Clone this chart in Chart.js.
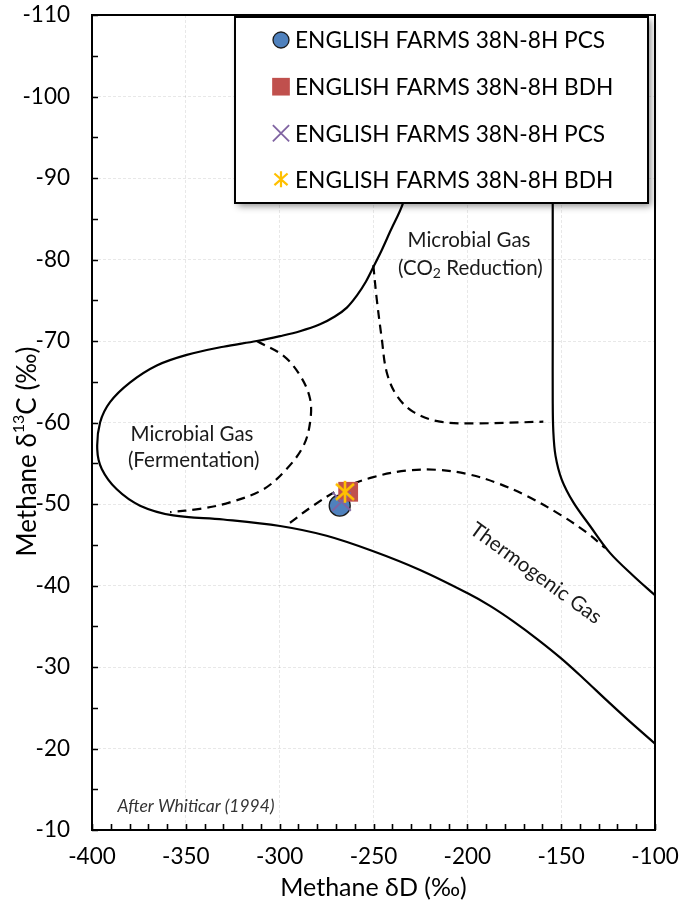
<!DOCTYPE html>
<html>
<head>
<meta charset="utf-8">
<script src="https://cdn.jsdelivr.net/npm/chart.js@4.4.1/dist/chart.umd.min.js"></script>
<style>
  html, body { margin: 0; padding: 0; background: #ffffff; }
  #wrap { width: 682px; height: 907px; }
</style>
</head>
<body>
<div id="wrap"><canvas id="c" width="682" height="907"></canvas></div>
<script>
// ---------- DATA ----------
const xTicks = [-400, -350, -300, -250, -200, -150, -100];
const yTicks = [-110, -100, -90, -80, -70, -60, -50, -40, -30, -20, -10];

// Field boundaries (δD, δ13C) after Whiticar (1994)
const outerBoundary = [
  [-208, -110], [-222, -96], [-234.3, -86.9], [-241.2, -83.4], [-245.5, -81.2],
  [-249.7, -79.25], [-254.0, -77.3], [-258.8, -75.6], [-264.2, -74.1], [-270.6, -73.0],
  [-278.5, -72.05], [-289.2, -71.2], [-299.8, -70.6], [-312.2, -70.0], [-330, -69.3],
  [-349.5, -68.3], [-365.5, -67.0], [-379.8, -64.9], [-390.4, -62.5], [-395.7, -60.0],
  [-397.2, -56.7], [-394.8, -54.3], [-386.8, -51.8], [-374.4, -49.8], [-356.7, -48.6],
  [-330, -48.1], [-299.8, -47.3], [-275, -46.1], [-250.1, -44.2], [-225.2, -41.9],
  [-200.3, -39.1], [-187.9, -37.5], [-175.5, -35.6], [-162.6, -33.4], [-149.7, -31.0],
  [-137.7, -28.5], [-125.7, -25.9], [-112.9, -23.2], [-100, -20.6]
];
const thermogenicBoundary = [
  [-154.5, -110], [-154.5, -87], [-154.5, -70], [-154.5, -63], [-154.2, -59.0],
  [-153.0, -55.9], [-149.7, -53.0], [-143.5, -50.2], [-134.6, -47.3], [-124, -44.0],
  [-111.6, -41.2], [-100, -38.8]
];
const fermentationDashed = [
  [-312.2, -70.0], [-298.1, -68.2], [-289.2, -65.8], [-283.8, -62.9], [-283.8, -60.0],
  [-287.4, -57.1], [-296.3, -54.3], [-308.7, -51.8], [-326.5, -50.2], [-342.5, -49.4],
  [-358.4, -49.0]
];
const co2ReductionDashed = [
  [-250.1, -79.3], [-248.3, -75.2], [-245.6, -70.3], [-243, -66.2], [-237.6, -63.3],
  [-228.8, -61.3], [-214.6, -60.1], [-195, -59.9], [-159.5, -60.1]
];
const thermogenicDashed = [
  [-294.5, -47.7], [-282.1, -49.8], [-267.9, -51.8], [-250.1, -53.3], [-232.3, -54.1],
  [-216.4, -54.2], [-200.3, -53.7], [-184.4, -52.6], [-168.4, -51.0], [-150.6, -48.7],
  [-136.4, -46.5], [-126.6, -44.6]
];

// Samples
const seriesLabels = [
  'ENGLISH FARMS 38N-8H PCS',
  'ENGLISH FARMS 38N-8H BDH',
  'ENGLISH FARMS 38N-8H PCS',
  'ENGLISH FARMS 38N-8H BDH'
];
const pcsCircle = [[-268, -49.8]];
const bdhSquare = [[-263.5, -51.5]];
const pcsCross = [[-267, -50.3]];
const bdhStar = [[-265.2, -51.5]];

// ---------- STYLE / DRAWING ----------
const FONT = 'Lato, "Open Sans", "Noto Sans", sans-serif';
const toXY = arr => arr.map(p => ({ x: p[0], y: p[1] }));

function drawAsterisk(g, r, color, lw) {
  g.save();
  g.strokeStyle = color; g.lineWidth = lw; g.lineCap = 'butt';
  g.beginPath();
  g.moveTo(0, -r); g.lineTo(0, r);
  g.moveTo(-0.82 * r, -0.72 * r); g.lineTo(0.82 * r, 0.72 * r);
  g.moveTo(-0.82 * r, 0.72 * r); g.lineTo(0.82 * r, -0.72 * r);
  g.stroke();
  g.restore();
}
function asteriskCanvas(r, color, lw) {
  const c = document.createElement('canvas');
  const s = Math.ceil(2 * r + 2 * lw + 2);
  c.width = s; c.height = s;
  const g = c.getContext('2d');
  g.translate(s / 2, s / 2);
  drawAsterisk(g, r, color, lw);
  return c;
}

function drawSymbol(ctx, kind, x, y, r, fill, stroke, lw) {
  ctx.save();
  ctx.translate(x, y);
  ctx.beginPath();
  if (kind === 'circle') {
    ctx.arc(0, 0, r, 0, Math.PI * 2);
    ctx.fillStyle = fill; ctx.fill();
    ctx.lineWidth = lw; ctx.strokeStyle = stroke; ctx.stroke();
  } else if (kind === 'rect') {
    const s = r * Math.SQRT1_2;
    ctx.fillStyle = fill; ctx.fillRect(-s, -s, 2 * s, 2 * s);
  } else if (kind === 'crossRot') {
    const s = r * Math.SQRT1_2;
    ctx.moveTo(-s, -s); ctx.lineTo(s, s); ctx.moveTo(-s, s); ctx.lineTo(s, -s);
    ctx.lineWidth = lw; ctx.strokeStyle = stroke; ctx.stroke();
  } else if (kind === 'asterisk') {
    drawAsterisk(ctx, r, stroke, lw);
  }
  ctx.restore();
}

function curve(label, arr, dashed) {
  return {
    type: 'line', label, data: toXY(arr), showLine: true,
    borderColor: '#000', borderWidth: 2.2, borderDash: dashed ? [9, 6] : [],
    pointRadius: 0, pointHoverRadius: 0, tension: 0.35, fill: false, order: 10,
    isCurve: true
  };
}

const symbolDefs = [
  { kind: 'circle', fill: '#4F81BD', stroke: '#1b1b1b', lw: 1.3, r: 8 },
  { kind: 'rect', fill: '#C0504D', stroke: '#C0504D', lw: 0, r: 12.5 },
  { kind: 'crossRot', fill: 'transparent', stroke: '#8064A2', lw: 1.8, r: 11.5 },
  { kind: 'asterisk', fill: 'transparent', stroke: '#FFC000', lw: 2.2, r: 8 }
];

const datasets = [
  {
    type: 'scatter', label: seriesLabels[0], data: toXY(pcsCircle), pointStyle: 'circle',
    pointRadius: 10.5, backgroundColor: '#4F81BD', borderColor: '#1b1b1b', borderWidth: 1.3, order: 3
  },
  {
    type: 'scatter', label: seriesLabels[1], data: toXY(bdhSquare), pointStyle: 'rect',
    pointRadius: 14, backgroundColor: '#C0504D', borderColor: '#C0504D', borderWidth: 0, order: 2
  },
  {
    type: 'scatter', label: seriesLabels[2], data: toXY(pcsCross), pointStyle: 'crossRot',
    pointRadius: 13, backgroundColor: '#8064A2', borderColor: '#8064A2', borderWidth: 2, order: 1
  },
  {
    type: 'scatter', label: seriesLabels[3], data: toXY(bdhStar), pointStyle: asteriskCanvas(11, '#FFC000', 2.6),
    pointRadius: 11, backgroundColor: '#FFC000', borderColor: '#FFC000', borderWidth: 0, order: 0
  },
  curve('Outer boundary', outerBoundary, false),
  curve('Thermogenic boundary', thermogenicBoundary, false),
  curve('Fermentation', fermentationDashed, true),
  curve('CO2 reduction', co2ReductionDashed, true),
  curve('Thermogenic', thermogenicDashed, true)
];

const decorPlugin = {
  id: 'decor',
  afterDraw(chart) {
    const { ctx, chartArea: ca, scales: { x, y } } = chart;
    ctx.save();
    // frame
    ctx.strokeStyle = '#000'; ctx.lineWidth = 2;
    ctx.strokeRect(ca.left, ca.top, ca.right - ca.left, ca.bottom - ca.top);
    // inward tick marks
    ctx.lineWidth = 1.6;
    ctx.beginPath();
    for (let v = x.min; v <= x.max + 0.001; v += 10) {
      const px = Math.round(x.getPixelForValue(v)) + 0.5;
      ctx.moveTo(px, ca.bottom); ctx.lineTo(px, ca.bottom - 6);
    }
    for (let v = y.min; v <= y.max + 0.001; v += 5) {
      const py = Math.round(y.getPixelForValue(v)) + 0.5;
      ctx.moveTo(ca.left, py); ctx.lineTo(ca.left + 6, py);
    }
    ctx.stroke();

    // y-axis title with real superscript
    {
      const big = '26px ' + FONT, small = '16px ' + FONT;
      const parts = [['Methane δ', big, 0], ['13', small, -9], ['C (‰)', big, 0]];
      ctx.save();
      ctx.fillStyle = '#000'; ctx.textBaseline = 'middle'; ctx.textAlign = 'left';
      let total = 0;
      parts.forEach(p => { ctx.font = p[1]; total += ctx.measureText(p[0]).width; });
      ctx.translate(28, (ca.top + ca.bottom) / 2 + 29);
      ctx.rotate(-Math.PI / 2);
      let sx = -total / 2;
      parts.forEach(p => { ctx.font = p[1]; ctx.fillText(p[0], sx, p[2]); sx += ctx.measureText(p[0]).width; });
      ctx.restore();
    }

    // field labels
    const LF = '20.5px ' + FONT, SF = '14px ' + FONT;
    ctx.fillStyle = '#1a1a1a';
    ctx.textAlign = 'center'; ctx.textBaseline = 'middle';
    ctx.font = LF;
    const P = (dx, dy) => [x.getPixelForValue(dx), y.getPixelForValue(dy)];
    let p = P(-346.7, -58.5); ctx.fillText('Microbial Gas', p[0], p[1]);
    p = P(-345.8, -55.4); ctx.fillText('(Fermentation)', p[0], p[1]);
    p = P(-199.1, -82.3); ctx.fillText('Microbial Gas', p[0], p[1]);
    // (CO2 Reduction) with subscript
    p = P(-198.4, -78.9);
    {
      const a = '(CO', sub = '2', b = ' Reduction)';
      ctx.font = LF; const wa = ctx.measureText(a).width, wb = ctx.measureText(b).width;
      ctx.font = SF; const ws = ctx.measureText(sub).width;
      const total = wa + ws + wb;
      let sx = p[0] - total / 2;
      ctx.textAlign = 'left';
      ctx.font = LF; ctx.fillText(a, sx, p[1]); sx += wa;
      ctx.font = SF; ctx.fillText(sub, sx, p[1] + 5); sx += ws;
      ctx.font = LF; ctx.fillText(b, sx, p[1]);
      ctx.textAlign = 'center';
    }
    // Thermogenic Gas rotated
    p = P(-163.5, -41.5);
    ctx.save();
    ctx.translate(p[0], p[1]);
    ctx.rotate(36 * Math.PI / 180);
    ctx.font = LF;
    ctx.fillText('Thermogenic Gas', 0, 0);
    ctx.restore();
    // attribution
    p = P(-344.6, -12.9);
    ctx.font = 'italic 17.5px ' + FONT;
    ctx.fillStyle = '#333';
    ctx.fillText('After Whiticar (1994)', p[0], p[1]);

    // legend box
    const L = 235, T = 17, R = 648, B = 203;
    ctx.save();
    ctx.shadowColor = 'rgba(0,0,0,0.45)'; ctx.shadowBlur = 7;
    ctx.shadowOffsetX = 3; ctx.shadowOffsetY = 3;
    ctx.fillStyle = '#fff';
    ctx.fillRect(L, T, R - L, B - T);
    ctx.restore();
    ctx.strokeStyle = '#000'; ctx.lineWidth = 2;
    ctx.strokeRect(L, T, R - L, B - T);
    const rowsY = [40, 86.7, 133.3, 179.3];
    ctx.textAlign = 'left'; ctx.textBaseline = 'middle';
    ctx.font = '22.7px ' + FONT; ctx.fillStyle = '#000';
    chart.data.datasets.filter(d => !d.isCurve).forEach((d, i) => {
      const s = symbolDefs[i];
      drawSymbol(ctx, s.kind, 281, rowsY[i], s.r, s.fill, s.stroke, s.lw);
      ctx.fillStyle = '#000';
      ctx.fillText(d.label, 295, rowsY[i] + 1);
    });
    ctx.restore();
  }
};

new Chart(document.getElementById('c'), {
  type: 'scatter',
  data: { datasets },
  options: {
    responsive: false,
    animation: false,
    events: [],
    layout: { padding: { top: 15, right: 27, left: 0, bottom: 0 } },
    plugins: { legend: { display: false }, tooltip: { enabled: false } },
    scales: {
      x: {
        type: 'linear', min: -400, max: -100,
        afterBuildTicks: s => { s.ticks = xTicks.map(v => ({ value: v })); },
        ticks: { font: { family: FONT, size: 22.5 }, color: '#000', padding: 13, maxRotation: 0 },
        grid: { color: 'rgba(0,0,0,0.09)', drawTicks: false },
        border: { color: '#000', width: 2, dash: [3, 2] },
        title: { display: true, text: 'Methane δD (‰)', font: { family: FONT, size: 25 }, color: '#000', padding: { top: 0, bottom: 4 } },
        afterFit: s => { s.height = 77; s.paddingLeft = 0; s.paddingRight = 0; }
      },
      y: {
        type: 'linear', reverse: true, min: -110, max: -10,
        afterBuildTicks: s => { s.ticks = yTicks.map(v => ({ value: v })); },
        ticks: { font: { family: FONT, size: 22.5 }, color: '#000', padding: 22 },
        grid: { color: 'rgba(0,0,0,0.09)', drawTicks: false },
        border: { color: '#000', width: 2, dash: [3, 2] },
        title: { display: false },
        afterFit: s => { s.width = 92; s.paddingTop = 0; s.paddingBottom = 0; }
      }
    }
  },
  plugins: [decorPlugin]
});
</script>
</body>
</html>
